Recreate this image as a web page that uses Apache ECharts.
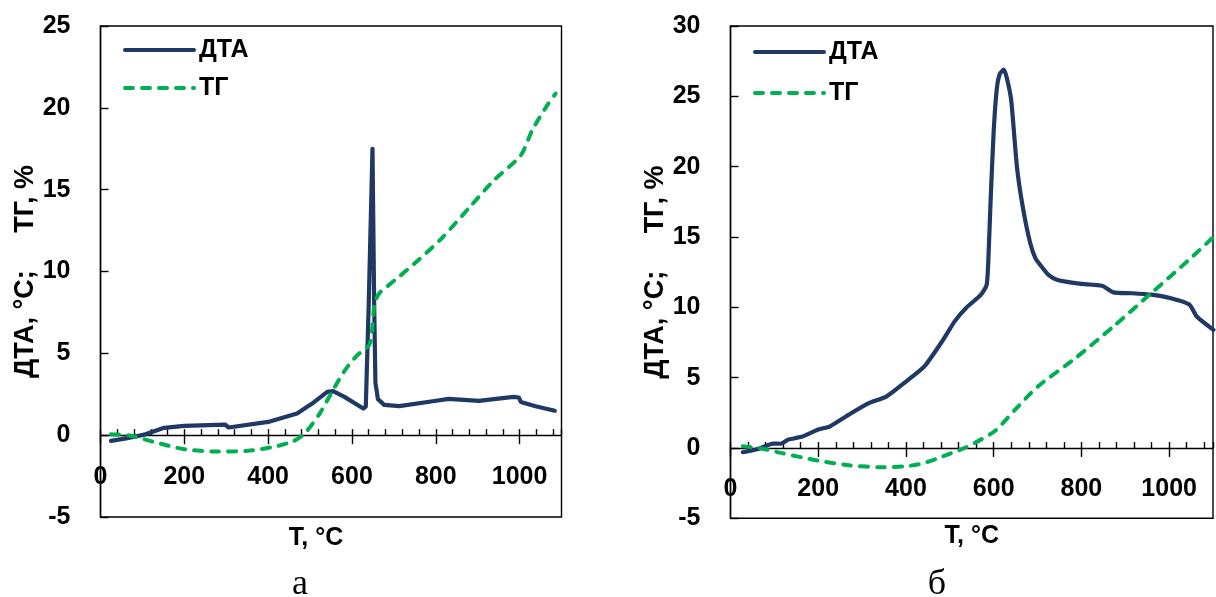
<!DOCTYPE html>
<html>
<head>
<meta charset="utf-8">
<script src="https://cdn.jsdelivr.net/npm/echarts@6/dist/echarts.min.js"></script>
<style>
  html, body { margin: 0; padding: 0; background: #fff; }
  #chart { width: 1216px; height: 597px; }
</style>
</head>
<body>
<div id="chart"></div>
<script>
// ---- Panel (а): DTA and TG curves ----
const tempDtaA = [25, 61, 107, 152, 200, 297, 306, 400, 469, 505, 541, 555, 582, 627, 633, 640, 649, 653, 656, 662, 677, 713, 801, 831, 903, 985, 998, 1003, 1038, 1084];
const dtaA     = [-0.35, -0.2, 0.05, 0.45, 0.57, 0.65, 0.47, 0.81, 1.32, 1.93, 2.65, 2.69, 2.34, 1.63, 1.75, 8.0, 17.5, 8.0, 3.2, 2.2, 1.85, 1.77, 2.1, 2.22, 2.1, 2.34, 2.3, 2.03, 1.77, 1.49];

const tempTgA = [25, 70, 125, 200, 279, 351, 414, 460, 487, 523, 559, 586, 613, 641, 648, 653, 659, 668, 704, 758, 813, 885, 939, 1003, 1030, 1066, 1086];
const tgA     = [0.06, -0.02, -0.4, -0.86, -1.0, -0.96, -0.71, -0.37, 0.1, 1.32, 2.95, 4.07, 4.89, 5.5, 6.4, 7.9, 8.4, 8.75, 9.5, 10.69, 12.0, 14.05, 15.58, 17.1, 18.63, 20.16, 20.87];

// ---- Panel (б): DTA and TG curves ----
const tempDtaB = [28, 63, 97, 115, 132, 162, 200, 227, 270, 313, 356, 401, 442, 485, 511, 537, 571, 584, 588, 593, 600, 607, 614, 623, 630, 640, 653, 666, 683, 695, 709, 725, 744, 795, 847, 873, 916, 959, 1002, 1046, 1063, 1101];
const dtaB     = [-0.3, -0.07, 0.31, 0.3, 0.6, 0.79, 1.31, 1.54, 2.37, 3.15, 3.67, 4.74, 5.8, 7.7, 9.0, 9.95, 10.9, 11.6, 13.5, 17.6, 22.5, 25.5, 26.6, 26.9, 26.3, 24.7, 20.0, 17.2, 14.6, 13.5, 12.9, 12.3, 11.96, 11.68, 11.53, 11.06, 11.0, 10.9, 10.66, 10.2, 9.35, 8.4];

const tempTgB = [28, 71, 115, 200, 270, 347, 401, 442, 485, 537, 602, 649, 701, 787, 873, 959, 1046, 1101];
const tgB     = [0.12, -0.04, -0.35, -0.9, -1.23, -1.37, -1.3, -1.06, -0.59, 0.05, 1.19, 2.73, 4.38, 6.4, 8.64, 11.0, 13.4, 15.0];

// ---- Axis ranges and labels ----
const tempRange = [0, 1100];
const tempStep = 200;
const tempMinorStep = 40;
const yRangeA = [-5, 25];
const yRangeB = [-5, 30];
const yStep = 5;
const seriesNames = ['ДТА', 'ТГ'];
const xTitle = 'T, °C';
const yTitle = 'ДТА, °C;     ТГ, %';
const panelCaptions = ['а', 'б'];

const NAVY = '#1F3864';
const GREEN = '#00B050';
const FONT = 'Liberation Sans';
const textBold = { fontFamily: FONT, fontWeight: 'bold', fontSize: 25, color: '#000' };
const titleBold = Object.assign({}, textBold, { fontSize: 27 });
const axisLineStyle = { color: '#000', width: 1.4 };
const plainNumber = v => String(v);

const pairs = (xs, ys) => xs.map((x, i) => [x, ys[i]]);

const panels = [
  { box: { left: 100.5, top: 26, width: 461, height: 491 }, y: yRangeA, xNameGap: 90, yNameGap: 59,
    legend: { left: 123, top: 35, itemGap: 8 }, dta: pairs(tempDtaA, dtaA), tg: pairs(tempTgA, tgA), xNamePad: 30,
    dtaSmooth: false, caption: { left: 300 } },
  { box: { left: 730.5, top: 26, width: 482.5, height: 492.3 }, y: yRangeB, xNameGap: 76, yNameGap: 61,
    legend: { left: 753, top: 37, itemGap: 11 }, dta: pairs(tempDtaB, dtaB), tg: pairs(tempTgB, tgB), xNamePad: 0,
    dtaSmooth: 0.2, caption: { left: 937 } }
];

const option = {
  animation: false,
  backgroundColor: '#fff',
  title: panels.map((p, i) => ({
    text: panelCaptions[i], left: p.caption.left, top: 567, textAlign: 'center', padding: 0,
    textStyle: { fontFamily: 'Liberation Serif', fontWeight: 'normal', fontSize: 36, color: '#000' }
  })),
  grid: [],
  legend: panels.map(p => ({
    data: seriesNames, orient: 'vertical', left: p.legend.left, top: p.legend.top, padding: 0,
    itemWidth: 69, itemHeight: 30, itemGap: p.legend.itemGap, selectedMode: false,
    textStyle: Object.assign({ lineHeight: 30 }, textBold),
    itemStyle: { opacity: 0 },
    lineStyle: { width: 4 }
  })),
  xAxis: [],
  yAxis: [],
  series: []
};

// plot frames (grids 0,1) carry the curves
panels.forEach((p, i) => {
  option.grid.push(Object.assign({
    show: true, borderColor: '#000', borderWidth: 1.4, backgroundColor: 'transparent',
    containLabel: false, outerBoundsMode: 'none'
  }, p.box));
  option.xAxis.push({
    gridIndex: i, type: 'value', min: tempRange[0], max: tempRange[1], interval: tempStep, show: false,
    axisLine: { onZero: false }, splitLine: { show: false }
  });
  option.yAxis.push({
    gridIndex: i, type: 'value', min: p.y[0], max: p.y[1], interval: yStep, position: 'left',
    axisLine: { show: true, onZero: false, lineStyle: axisLineStyle },
    axisTick: { show: true, inside: true, length: 8, lineStyle: axisLineStyle },
    axisLabel: Object.assign({ margin: 30 }, textBold),
    splitLine: { show: false },
    name: yTitle, nameLocation: 'middle', nameGap: p.yNameGap, nameRotate: 90,
    nameTextStyle: titleBold
  });
  option.series.push({
    name: seriesNames[0], type: 'line', xAxisIndex: i, yAxisIndex: i,
    data: p.dta, symbol: 'none', showSymbol: false, z: 3,
    smooth: p.dtaSmooth,
    itemStyle: { color: NAVY },
    lineStyle: { color: NAVY, width: 4.2, cap: 'round', join: 'round' }
  });
  option.series.push({
    name: seriesNames[1], type: 'line', xAxisIndex: i, yAxisIndex: i,
    data: p.tg, symbol: 'none', showSymbol: false, z: 4,
    smooth: 0.25,
    itemStyle: { color: GREEN },
    lineStyle: { color: GREEN, width: 4, type: [8, 9], cap: 'round', join: 'round' }
  });
});

// temperature axes sit on the zero level of each frame: a helper grid ends there
panels.forEach((p, i) => {
  const g = 2 + i;
  const zeroOffset = p.box.height * p.y[1] / (p.y[1] - p.y[0]);
  option.grid.push({
    show: false, left: p.box.left, width: p.box.width, top: p.box.top, height: zeroOffset,
    containLabel: false, outerBoundsMode: 'none'
  });
  option.yAxis.push({ gridIndex: g, type: 'value', min: 0, max: 1, show: false, axisLine: { onZero: false } });
  option.xAxis.push({
    gridIndex: g, type: 'value', min: tempRange[0], max: tempRange[1], interval: tempStep,
    position: 'bottom',
    axisLine: { show: true, onZero: false, lineStyle: axisLineStyle },
    axisTick: { show: true, inside: false, length: 9, lineStyle: axisLineStyle },
    axisLabel: Object.assign({ margin: 29, showMaxLabel: false, formatter: plainNumber }, textBold),
    splitLine: { show: false },
    name: xTitle, nameLocation: 'middle', nameGap: p.xNameGap,
    nameTextStyle: Object.assign({ padding: [0, p.xNamePad, 0, 0] }, textBold)
  });
  // short upward ticks every 40 °C
  option.xAxis.push({
    gridIndex: g, type: 'value', min: tempRange[0], max: tempRange[1], interval: tempMinorStep,
    position: 'bottom',
    axisLine: { show: false, onZero: false },
    axisTick: { show: true, inside: true, length: 6, lineStyle: axisLineStyle },
    axisLabel: { show: false },
    splitLine: { show: false }
  });
});

const chart = echarts.init(document.getElementById('chart'), null, { renderer: 'canvas' });
chart.setOption(option);
</script>
</body>
</html>
